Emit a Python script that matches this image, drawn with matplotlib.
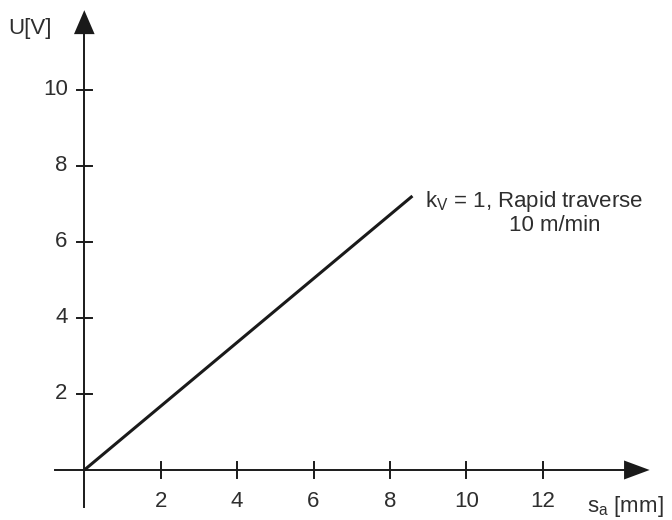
import numpy as np
import matplotlib.pyplot as plt

plt.rcParams['font.family'] = ['Liberation Sans', 'DejaVu Sans']

# data
s_a = [0, 8.59]
u = [0, 7.21]
x_ticks = [2, 4, 6, 8, 10, 12]
y_ticks = [2, 4, 6, 8, 10]

txt = '#2e2e2e'
ink = '#1a1a1a'
fs = 16

fig = plt.figure(figsize=(6.72, 5.2), dpi=100)
ax = fig.add_axes([0, 0, 1, 1])
# 38.2 px per unit in x, 38 px in y, origin at (84, 470) px
ax.set_xlim(-2.207, 15.385)
ax.set_ylim(-1.316, 12.368)
ax.axis('off')

# axis lines
ax.plot([-0.77, 14.2], [0, 0], color=ink, lw=1.4)
ax.plot([0, 0], [-0.97, 11.5], color=ink, lw=1.4)
# arrow heads
ax.fill([14.13, 14.13, 14.8], [-0.25, 0.25, 0], color=ink, lw=0)
ax.fill([-0.27, 0.27, 0], [11.47, 11.47, 12.1], color=ink, lw=0)

# ticks
for xt in x_ticks:
    ax.plot([xt, xt], [-0.2, 0.2], color=ink, lw=1.4)
    ax.text(xt, -0.82, str(xt), ha='center', va='center', fontsize=fs, color=txt)
for yt in y_ticks:
    ax.plot([-0.2, 0.2], [yt, yt], color=ink, lw=1.4)
    ax.text(-0.435, yt, str(yt), ha='right', va='center', fontsize=fs, color=txt)

# line
ax.plot(s_a, u, color=ink, lw=2.2, solid_capstyle='butt')

ax.text(-1.41, 11.63, 'U[V]', ha='center', va='center', fontsize=fs, color=txt)
ax.text(13.16, -1.105, r's$_\mathregular{a}$ [mm]', ha='left', va='baseline',
        fontsize=fs, color=txt)
ax.text(8.92, 6.92, r'k$_\mathregular{V}$ = 1, Rapid traverse', ha='left', va='baseline',
        fontsize=fs, color=txt)
ax.text(12.32, 6.30, '10 m/min', ha='center', va='baseline', fontsize=fs, color=txt)

fig.savefig('out.png', dpi=100)
